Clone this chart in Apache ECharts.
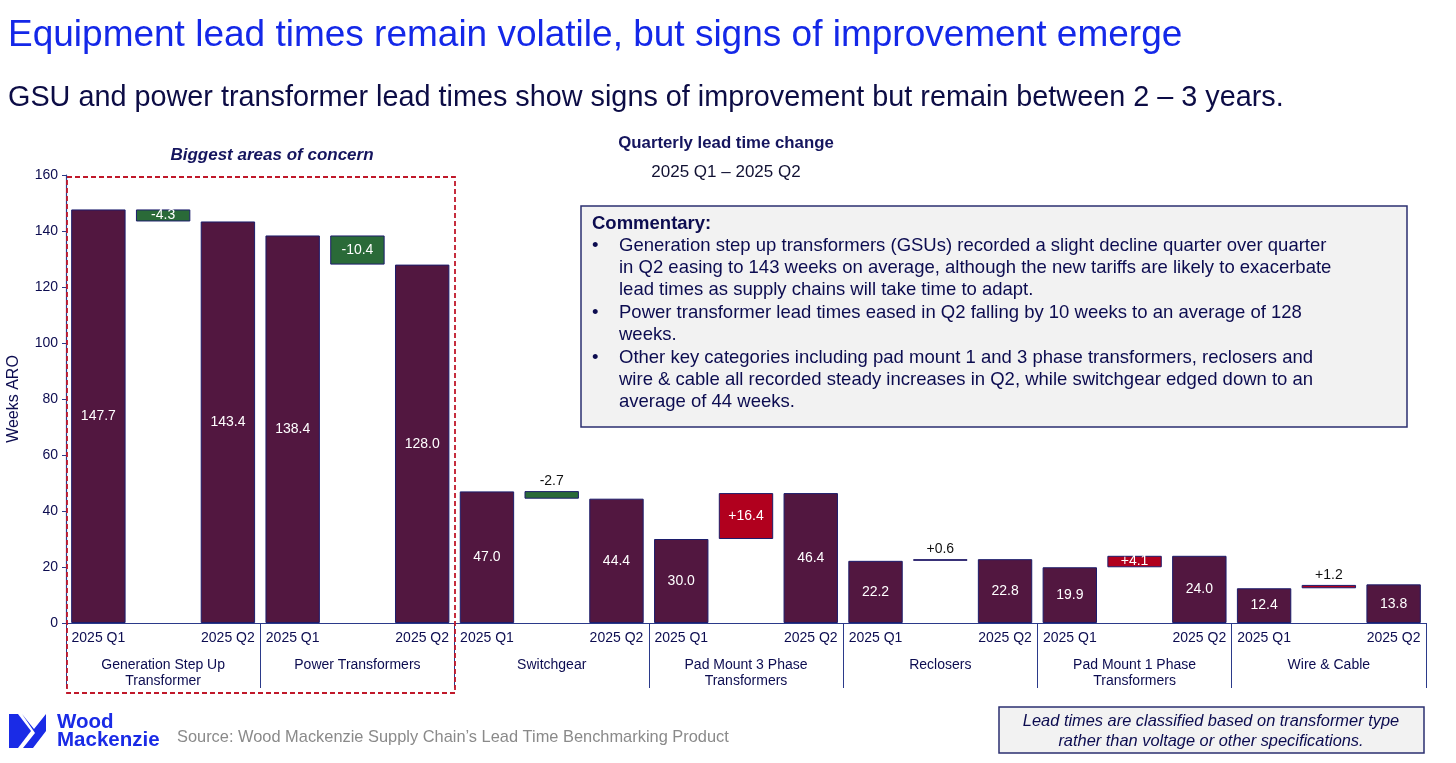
<!DOCTYPE html>
<html>
<head>
<meta charset="utf-8">
<script src="https://cdn.jsdelivr.net/npm/echarts@6/dist/echarts.min.js"></script>
<style>
html,body{margin:0;padding:0;background:#fff;}
#c{width:1456px;height:763px;}
</style>
</head>
<body>
<div id="c"></div>
<script>
// ---- data ----
const groups = ['Generation Step Up\nTransformer', 'Power Transformers', 'Switchgear', 'Pad Mount 3 Phase\nTransformers', 'Reclosers', 'Pad Mount 1 Phase\nTransformers', 'Wire & Cable'];
const periodLabels = ['2025 Q1', '', '2025 Q2'];
const q1Values = [147.7, 138.4, 47.0, 30.0, 22.2, 19.9, 12.4];
const q2Values = [143.4, 128.0, 44.4, 46.4, 22.8, 24.0, 13.8];
const changes = [-4.3, -10.4, -2.7, 16.4, 0.6, 4.1, 1.2];
const yTicks = [0, 20, 40, 60, 80, 100, 120, 140, 160];

const commentaryLines = [
  ['•', 'Generation step up transformers (GSUs) recorded a slight decline quarter over quarter'],
  ['', 'in Q2 easing to 143 weeks on average, although the new tariffs are likely to exacerbate'],
  ['', 'lead times as supply chains will take time to adapt.'],
  ['•', 'Power transformer lead times eased in Q2 falling by 10 weeks to an average of 128'],
  ['', 'weeks.'],
  ['•', 'Other key categories including pad mount 1 and 3 phase transformers, reclosers and'],
  ['', 'wire & cable all recorded steady increases in Q2, while switchgear edged down to an'],
  ['', 'average of 44 weeks.']
];

// ---- build slot arrays ----
const NAVY = '#1c1c6b';
const BAR = '#521740';
const GREEN = '#2a6a38';
const RED = '#b1001e';
const FONT = 'Liberation Sans, Arial, sans-serif';

const cats = [], mainData = [], baseData = [], deltaData = [];
groups.forEach((g, i) => {
  periodLabels.forEach(p => cats.push(p));
  mainData.push(q1Values[i], '-', q2Values[i]);
  baseData.push('-', Math.min(q1Values[i], q2Values[i]), '-');
  const c = changes[i];
  const inside = Math.abs(c) >= 4;
  deltaData.push('-', {
    value: Math.abs(c),
    itemStyle: { color: c < 0 ? GREEN : RED },
    label: {
      show: true,
      position: inside ? 'inside' : 'top',
      color: inside ? '#fff' : '#111',
      distance: 3,
      formatter: () => (c > 0 ? '+' : '') + c.toFixed(1)
    }
  }, '-');
});

const graphics = [];
// Title & subtitle
graphics.push({ type: 'text', x: 8, y: 36, style: { text: 'Equipment lead times remain volatile, but signs of improvement emerge', font: '37px ' + FONT, fill: '#1428e8', verticalAlign: 'middle' } });
graphics.push({ type: 'text', x: 8, y: 98, style: { text: 'GSU and power transformer lead times show signs of improvement but remain between 2 – 3 years.', font: '28.8px ' + FONT, fill: '#0c0c45', verticalAlign: 'middle' } });
// chart headings
graphics.push({ type: 'text', x: 726, y: 143, style: { text: 'Quarterly lead time change', font: 'bold 16.8px ' + FONT, fill: '#15155e', align: 'center', verticalAlign: 'middle' } });
graphics.push({ type: 'text', x: 726, y: 172, style: { text: '2025 Q1 – 2025 Q2', font: '17px ' + FONT, fill: '#111133', align: 'center', verticalAlign: 'middle' } });
graphics.push({ type: 'text', x: 272, y: 155, style: { text: 'Biggest areas of concern', font: 'italic bold 17px ' + FONT, fill: '#15155e', align: 'center', verticalAlign: 'middle' } });
// red dashed box
graphics.push({ type: 'rect', shape: { x: 67, y: 177, width: 388, height: 516 }, style: { fill: 'none', stroke: '#c0182a', lineWidth: 1.8, lineDash: [5, 3] }, z: 100 });
// commentary box
graphics.push({ type: 'rect', shape: { x: 581, y: 206, width: 826, height: 221 }, style: { fill: '#f2f2f2', stroke: '#2b2f70', lineWidth: 1.5 }, z: 50 });
graphics.push({ type: 'text', x: 592, y: 224, style: { text: 'Commentary:', font: 'bold 18.5px ' + FONT, fill: '#0c0c50', verticalAlign: 'middle' }, z: 51 });
commentaryLines.forEach((ln, i) => {
  const y = 245.5 + i * 22.4;
  if (ln[0]) graphics.push({ type: 'text', x: 592, y: y, style: { text: ln[0], font: '18.5px ' + FONT, fill: '#0c0c50', verticalAlign: 'middle' }, z: 51 });
  graphics.push({ type: 'text', x: 619, y: y, style: { text: ln[1], font: '18.5px ' + FONT, fill: '#0c0c50', verticalAlign: 'middle' }, z: 51 });
});
// note box
graphics.push({ type: 'rect', shape: { x: 999, y: 707, width: 425, height: 46 }, style: { fill: '#f2f2f2', stroke: '#2b2f70', lineWidth: 1.5 }, z: 50 });
graphics.push({ type: 'text', x: 1211, y: 721, style: { text: 'Lead times are classified based on transformer type', font: 'italic 16.4px ' + FONT, fill: '#0c0c50', align: 'center', verticalAlign: 'middle' }, z: 51 });
graphics.push({ type: 'text', x: 1211, y: 741, style: { text: 'rather than voltage or other specifications.', font: 'italic 16.4px ' + FONT, fill: '#0c0c50', align: 'center', verticalAlign: 'middle' }, z: 51 });
// source
graphics.push({ type: 'text', x: 177, y: 737, style: { text: 'Source: Wood Mackenzie Supply Chain’s Lead Time Benchmarking Product', font: '16.4px ' + FONT, fill: '#8a8a8a', verticalAlign: 'middle' } });
// logo mark
const LOGO = '#1a2be6';
graphics.push({ type: 'polygon', shape: { points: [[9, 714], [18, 714], [31, 731], [18, 748], [9, 748]] }, style: { fill: LOGO } });
graphics.push({ type: 'polygon', shape: { points: [[22, 714], [34, 729], [46, 714], [46, 731], [33, 748], [23, 748], [35, 733]] }, style: { fill: LOGO } });
graphics.push({ type: 'text', x: 57, y: 722, style: { text: 'Wood', font: 'bold 20.5px ' + FONT, fill: LOGO, verticalAlign: 'middle' } });
graphics.push({ type: 'text', x: 57, y: 740, style: { text: 'Mackenzie', font: 'bold 20.5px ' + FONT, fill: LOGO, verticalAlign: 'middle' } });

const chart = echarts.init(document.getElementById('c'));
chart.setOption({
  animation: false,
  backgroundColor: '#fff',
  textStyle: { fontFamily: FONT },
  grid: { left: 66, right: 30, top: 175, bottom: 140, containLabel: false, outerBoundsMode: 'none' },
  xAxis: [{
    type: 'category',
    data: cats,
    position: 'bottom',
    axisLine: { lineStyle: { color: '#2b3a8a', width: 1.2 } },
    axisTick: { show: false },
    axisLabel: { interval: 0, color: '#0c0c50', fontSize: 14, margin: 8 }
  }, {
    type: 'category',
    data: groups,
    position: 'bottom',
    axisLine: { show: false },
    axisTick: { show: true, length: 65, lineStyle: { color: '#2b3a8a', width: 1 } },
    axisLabel: { interval: 0, color: '#0c0c50', fontSize: 14, margin: 34, lineHeight: 16 }
  }],
  yAxis: {
    type: 'value',
    min: 0, max: 160, interval: 20,
    name: 'Weeks ARO',
    nameLocation: 'middle',
    nameGap: 44,
    nameTextStyle: { color: '#0c0c50', fontSize: 16 },
    axisLine: { show: true, lineStyle: { color: '#2b3a8a', width: 1.2 } },
    axisTick: { show: true, length: 4, lineStyle: { color: '#2b3a8a' } },
    axisLabel: { color: '#0c0c50', fontSize: 14, margin: 8, formatter: v => yTicks.includes(v) ? String(v) : '' },
    splitLine: { show: false }
  },
  series: [{
    type: 'bar',
    name: 'level',
    data: mainData,
    barWidth: '84%',
    barGap: '-100%',
    itemStyle: { color: BAR, borderColor: NAVY, borderWidth: 1 },
    label: { show: true, position: 'inside', color: '#fff', fontSize: 14, formatter: p => Number(p.value).toFixed(1) }
  }, {
    type: 'bar',
    name: 'base',
    stack: 'chg',
    data: baseData,
    barWidth: '84%',
    itemStyle: { color: 'transparent' },
    silent: true
  }, {
    type: 'bar',
    name: 'change',
    stack: 'chg',
    data: deltaData,
    barWidth: '84%',
    itemStyle: { borderColor: NAVY, borderWidth: 1 },
    label: { fontSize: 14 }
  }],
  graphic: graphics
});
</script>
</body>
</html>
